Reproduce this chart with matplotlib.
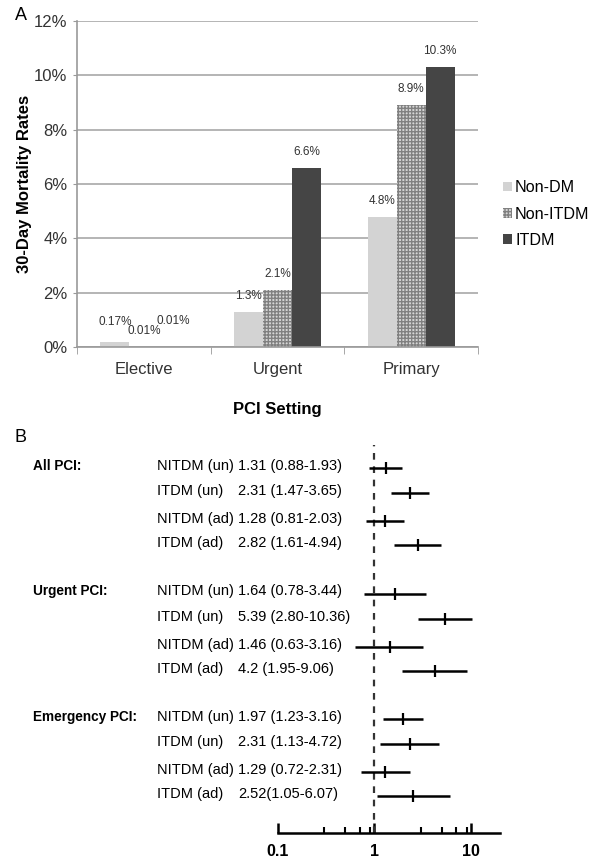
import matplotlib.pyplot as plt
from matplotlib.transforms import blended_transform_factory
from matplotlib.ticker import FixedLocator, NullFormatter

plt.rcParams['font.family'] = ['Liberation Sans', 'DejaVu Sans']

# ---- Panel A data ----
settings = ["Elective", "Urgent", "Primary"]
groups = ["Non-DM", "Non-ITDM", "ITDM"]
non_dm = [0.17, 1.3, 4.8]
non_itdm = [0.01, 2.1, 8.9]
itdm = [0.01, 6.6, 10.3]
bar_labels = [["0.17%", "1.3%", "4.8%"],
              ["0.01%", "2.1%", "8.9%"],
              ["0.01%", "6.6%", "10.3%"]]

# ---- Panel B data ----
pci_groups = ["All PCI:", "Urgent PCI:", "Emergency PCI:"]
row_names = ["NITDM (un)", "ITDM (un)", "NITDM (ad)", "ITDM (ad)"]
or_est = [[1.31, 2.31, 1.28, 2.82],
          [1.64, 5.39, 1.46, 4.2],
          [1.97, 2.31, 1.29, 2.52]]
or_lo = [[0.88, 1.47, 0.81, 1.61],
         [0.78, 2.80, 0.63, 1.95],
         [1.23, 1.13, 0.72, 1.05]]
or_hi = [[1.93, 3.65, 2.03, 4.94],
         [3.44, 10.36, 3.16, 9.06],
         [3.16, 4.72, 2.31, 6.07]]
or_text = [["1.31 (0.88-1.93)", "2.31 (1.47-3.65)", "1.28 (0.81-2.03)", "2.82 (1.61-4.94)"],
           ["1.64 (0.78-3.44)", "5.39 (2.80-10.36)", "1.46 (0.63-3.16)", "4.2 (1.95-9.06)"],
           ["1.97 (1.23-3.16)", "2.31 (1.13-4.72)", "1.29 (0.72-2.31)", "2.52(1.05-6.07)"]]

W, H = 592, 861
fig = plt.figure(figsize=(W / 100, H / 100), dpi=100)

# -------- Panel A: bar chart --------
ax = fig.add_axes([77 / W, 1 - 347 / H, 401 / W, 326 / H])
width = 0.217
x = range(len(settings))
styles = [dict(color="#d3d3d3"),
          dict(facecolor="#d6d6d6", edgecolor="#808080", hatch="+++++", linewidth=0),
          dict(color="#454545")]
series = [non_dm, non_itdm, itdm]
nudge = [[3, 0, 0], [0, 0, 0], [7, 0, 0]]
for k, vals in enumerate(series):
    pos = [i + (k - 1) * width for i in x]
    ax.bar(pos, vals, width=width, label=groups[k], zorder=2, **styles[k])
    for j, (p, v) in enumerate(zip(pos, vals)):
        ax.annotate(bar_labels[k][j], (p, v), xytext=(0, 7 + nudge[k][j]),
                    textcoords="offset points", ha="center", va="bottom",
                    fontsize=8.5, color="#333333")

ax.set_xlim(-0.5, 2.5)
ax.set_ylim(0, 12)
ax.set_yticks(range(0, 13, 2))
ax.set_yticklabels([f"{v}%" for v in range(0, 13, 2)])
ax.set_xticks(list(x))
ax.set_xticklabels(settings)
ax.set_xticks([-0.5, 0.5, 1.5, 2.5], minor=True)
ax.tick_params(axis="x", which="major", length=0, pad=11, labelsize=12, colors="#333333")
ax.tick_params(axis="x", which="minor", length=5, color="#999999", direction="out")
ax.tick_params(axis="y", length=3, color="#999999", labelsize=12, colors="#333333", pad=4)
ax.yaxis.grid(True, color="#a8a8a8", linewidth=1.2, zorder=0)
ax.set_axisbelow(True)
for s in ["top", "right"]:
    ax.spines[s].set_visible(False)
for s in ["left", "bottom"]:
    ax.spines[s].set_color("#999999")
    ax.spines[s].set_linewidth(1.2)
ax.set_ylabel("30-Day Mortality Rates", fontsize=12, fontweight="bold", labelpad=1)
ax.set_xlabel("PCI Setting", fontsize=12, fontweight="bold", labelpad=18)
ax.legend(loc="center left", bbox_to_anchor=(503 / W, 1 - 214 / H),
          bbox_transform=fig.transFigure, frameon=False, fontsize=11.6,
          handlelength=0.55, handleheight=0.55, handletextpad=0.2, labelspacing=0.7,
          borderpad=0, borderaxespad=0)

fig.text(15 / W, 1 - 16 / H, "A", fontsize=13, va="center", ha="left")
fig.text(15 / W, 1 - 437 / H, "B", fontsize=13, va="center", ha="left")

# -------- Panel B: forest plot --------
fx = fig.add_axes([278 / W, 1 - 833 / H, 222 / W, (833 - 445) / H])
fx.set_xscale("log")
fx.set_xlim(0.1, 20)
fx.set_ylim(833, 445)
fx.axvline(1, color="#333333", linestyle=(0, (3, 3)), linewidth=1.6)

offsets = [0, 25, 53, 77]
tr = blended_transform_factory(fig.transFigure, fx.transData)
for g, gname in enumerate(pci_groups):
    y0 = 468 + 125.5 * g
    fig.text(33 / W, y0 - 2, gname, transform=tr, fontsize=9.8, fontweight="bold",
             va="center", ha="left")
    for r, rname in enumerate(row_names):
        y = y0 + offsets[r]
        fx.plot([or_lo[g][r], or_hi[g][r]], [y, y], color="black", linewidth=1.8,
                solid_capstyle="butt")
        fx.plot([or_est[g][r]], [y], marker="|", markersize=9, mew=1.6, color="black")
        fig.text(157 / W, y - 2, rname, transform=tr, fontsize=10.5, va="center", ha="left")
        fig.text(238 / W, y - 2, or_text[g][r], transform=tr, fontsize=10.5,
                 va="center", ha="left")

fx.set_yticks([])
for s in ["top", "right", "left"]:
    fx.spines[s].set_visible(False)
fx.spines["bottom"].set_linewidth(1.8)
fx.xaxis.set_major_locator(FixedLocator([0.1, 1, 10]))
fx.set_xticklabels(["0.1", "1", "10"])
fx.xaxis.set_minor_locator(FixedLocator([0.3, 0.5, 0.7, 0.9, 3, 5, 7, 9]))
fx.xaxis.set_minor_formatter(NullFormatter())
fx.tick_params(axis="x", which="major", direction="in", length=7, width=1.8,
               labelsize=11.5, pad=8)
fx.tick_params(axis="x", which="minor", direction="in", length=4, width=1.5)
for lab in fx.get_xticklabels():
    lab.set_fontweight("bold")

plt.savefig("out.png", dpi=100)
